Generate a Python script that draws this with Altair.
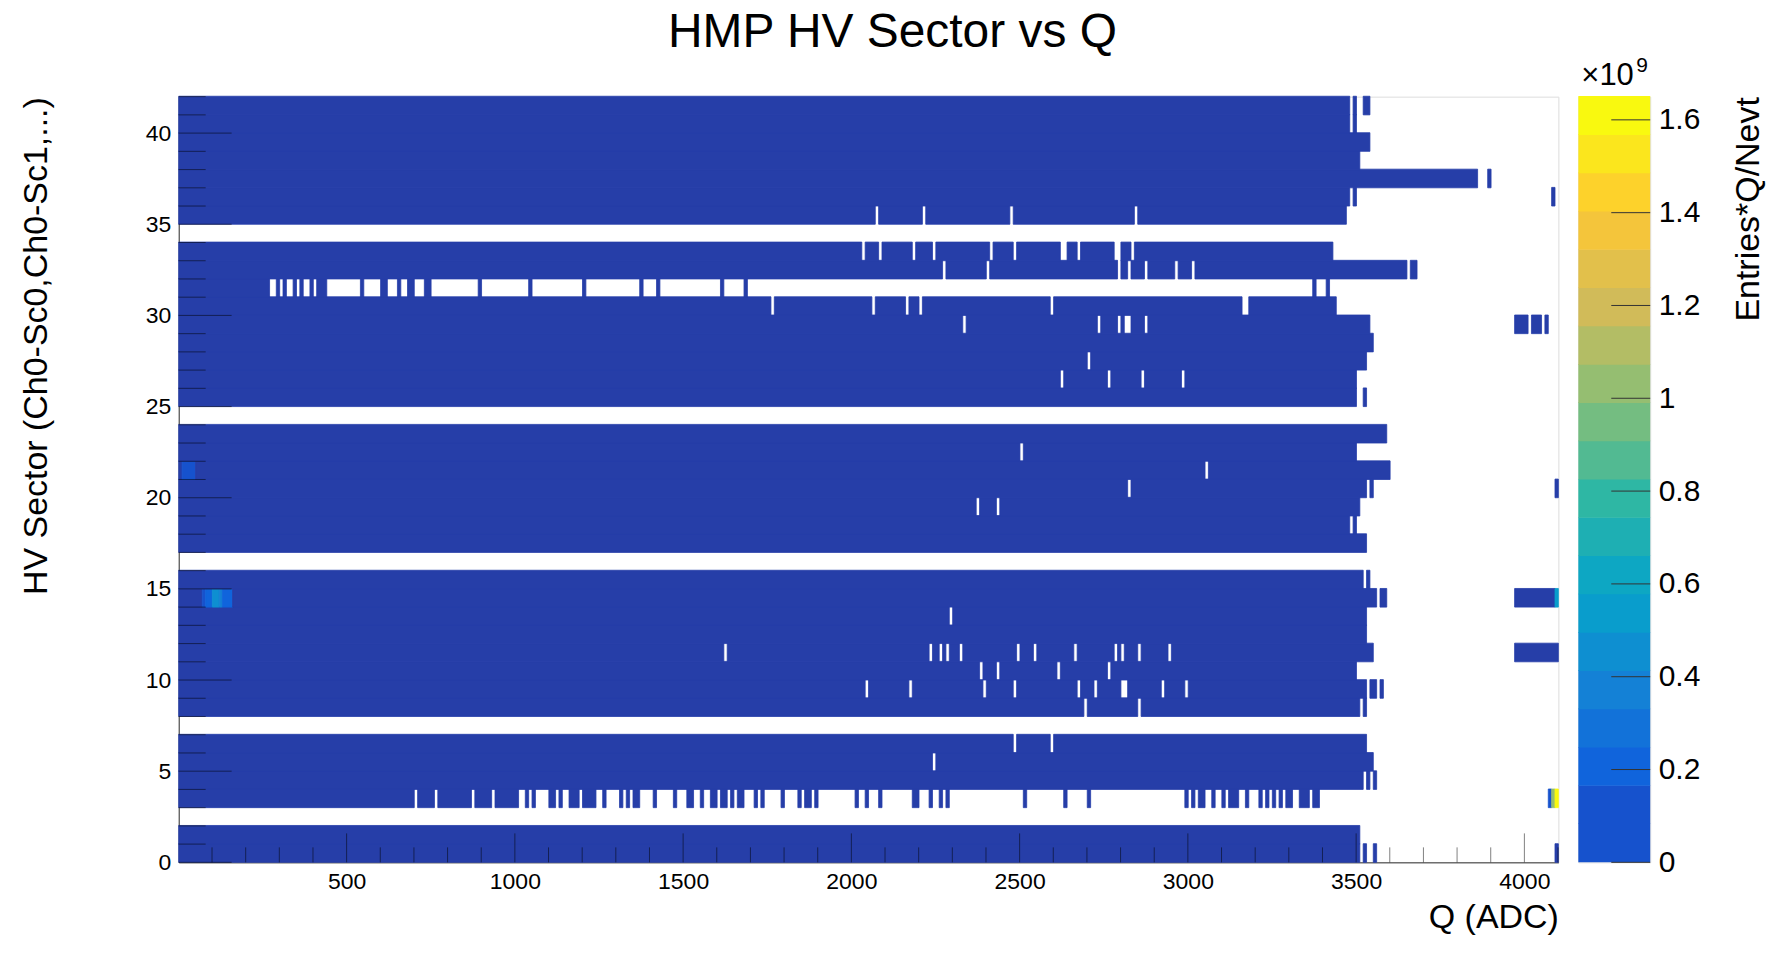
import altair as alt
import pandas as pd

# ---------------- data ----------------
N_ROWS = 42
N_BINS = 410
Q_LOW = 1          # first bin starts at Q = 1
BIN_W = 10         # ADC per bin

# number of contiguously filled bins from the left in each HV-sector row
FILL_END = [351, 351, 0, 70, 352, 355, 353, 0, 351, 353,
            350, 355, 353, 353, 356, 352, 0, 353, 348, 351,
            353, 360, 350, 359, 0, 350, 350, 353, 355, 354,
            344, 27, 365, 343, 0, 347, 348, 386, 351, 354,
            348, 348]

# empty bins inside the filled run
GAPS = {
    5: [224],
    6: [248, 259],
    8: [269, 285],
    9: [204, 217, 239, 248, 267, 272, 280, 281, 292, 299],
    10: [238, 243, 261, 276],
    11: [162, 223, 226, 228, 232, 249, 254, 266, 278, 280, 285, 294],
    13: [229],
    19: [237, 243],
    20: [282],
    21: [305],
    22: [250],
    26: [262, 276, 286, 298],
    27: [270],
    29: [233, 273, 279, 281, 282, 287],
    30: [176, 206, 216, 220, 259, 316, 317],
    32: [227, 240, 279, 282, 287, 296, 301],
    33: [203, 208, 218, 224, 241, 248, 262, 263, 267, 278, 279, 283],
    35: [207, 221, 247, 284],
}

# filled bin ranges (inclusive) outside the main run
EXTRA = {
    0: [(352, 352), (355, 355), (409, 409)],
    3: [(71, 75), (77, 86), (88, 92), (94, 100), (103, 103), (105, 105),
        (110, 111), (113, 113), (116, 118), (120, 123), (126, 126),
        (131, 131), (133, 133), (135, 136), (141, 141), (147, 147),
        (151, 152), (155, 155), (158, 159), (161, 162), (164, 164),
        (166, 167), (171, 171), (173, 173), (179, 179), (184, 184),
        (186, 187), (189, 189), (201, 201), (204, 204), (208, 208),
        (218, 219), (223, 223), (226, 226), (228, 228), (251, 251),
        (263, 263), (270, 270), (299, 299), (301, 301), (303, 304),
        (307, 307), (310, 310), (312, 314), (317, 317), (321, 321),
        (323, 323), (325, 325), (327, 327), (329, 330), (333, 335),
        (337, 338), (407, 409)],
    4: [(353, 353), (355, 355)],
    8: [(352, 352)],
    9: [(354, 355), (357, 357)],
    11: [(397, 409)],
    14: [(357, 358), (397, 409)],
    15: [(353, 353)],
    18: [(349, 349)],
    20: [(354, 354), (409, 409)],
    25: [(352, 352)],
    29: [(397, 400), (402, 404), (406, 406)],
    31: [(29, 29), (31, 31), (34, 34), (36, 36), (39, 39), (41, 43),
         (54, 54), (60, 61), (65, 65), (68, 69), (73, 74), (89, 89),
         (104, 104), (120, 120), (137, 137), (142, 142), (161, 161),
         (168, 168), (337, 337), (341, 341)],
    32: [(366, 367)],
    36: [(349, 349), (408, 408)],
    37: [(389, 389)],
    40: [(349, 349)],
    41: [(349, 349), (352, 353)],
}

BASE_VALUE = 0.04   # Entries*Q/Nevt in units of 1e9 (lowest colour band)

# cells with a brighter colour: (row, first bin, last bin, value x1e9)
SPECIAL = [
    (21, 1, 4, 0.12),
    (14, 7, 7, 0.14),
    (14, 8, 9, 0.20),
    (14, 10, 11, 0.46),
    (14, 12, 12, 0.34),
    (14, 13, 15, 0.18),
    (14, 409, 409, 0.54),
    (3, 407, 407, 0.14),
    (3, 408, 408, 1.05),
    (3, 409, 409, 1.64),
]

# colour bar (20 contour bands, kBird palette)
BAND_EDGES = [0, 0.0825, 0.165, 0.2475, 0.33, 0.4125, 0.495, 0.5775, 0.66,
              0.7425, 0.825, 0.9075, 0.99, 1.0725, 1.155, 1.2375, 1.32,
              1.4025, 1.485, 1.5675, 1.65]
BAND_COLORS = ["#263ea8", "#1652cd", "#1064dc", "#1272d9", "#1481d6",
               "#0e8fd1", "#099dcc", "#0da7c3", "#1eafb3", "#2eb7a4",
               "#52ba92", "#74bd81", "#95be71", "#b3bd65", "#d1bb59",
               "#e2c04b", "#f4c53b", "#fdd22b", "#fbe61d", "#f9f90f"]
# the palette box draws its lowest band with the second colour
BAR_COLORS = ["#1652cd"] + BAND_COLORS[1:]
CB_LABELS = [0, 0.2, 0.4, 0.6, 0.8, 1, 1.2, 1.4, 1.6]

X_LABELS = [500, 1000, 1500, 2000, 2500, 3000, 3500, 4000]
X_MINOR = [v for v in range(100, 4101, 100) if v % 500 != 0]
Y_LABELS = [0, 5, 10, 15, 20, 25, 30, 35, 40]
Y_MINOR = [v for v in range(1, 43) if v % 5 != 0]

TITLE = "HMP HV Sector vs Q"
X_TITLE = "Q (ADC)"
Y_TITLE = "HV Sector (Ch0-Sc0,Ch0-Sc1,...)"
Z_TITLE = "Entries*Q/Nevt"

# ---------------- build the cell table (run-length merged) ----------------
records = []
for r in range(N_ROWS):
    vals = [None] * N_BINS
    for i in range(FILL_END[r]):
        vals[i] = BASE_VALUE
    for g in GAPS.get(r, []):
        vals[g] = None
    for a, b in EXTRA.get(r, []):
        for i in range(a, b + 1):
            vals[i] = BASE_VALUE
    for (sr, a, b, v) in SPECIAL:
        if sr == r:
            for i in range(a, b + 1):
                vals[i] = v
    i = 0
    while i < N_BINS:
        if vals[i] is None:
            i += 1
            continue
        j = i
        while j + 1 < N_BINS and vals[j + 1] == vals[i]:
            j += 1
        records.append({"q0": Q_LOW + BIN_W * i, "q1": Q_LOW + BIN_W * (j + 1),
                        "s0": r, "s1": r + 1, "v": vals[i]})
        i = j + 1
cells_df = pd.DataFrame(records)

FONT = "Liberation Sans"
W, H = 1382, 767

xs = alt.Scale(domain=[Q_LOW, Q_LOW + BIN_W * N_BINS], nice=False, zero=False)
ys = alt.Scale(domain=[0, N_ROWS], nice=False, zero=True)
cscale = alt.Scale(type="threshold", domain=BAND_EDGES[1:-1], range=BAND_COLORS)

x_axis = alt.Axis(values=X_LABELS, format="d", title=X_TITLE, ticks=False, tickSize=0,
                  grid=False, domainColor="#333333", domainWidth=1,
                  labelFont=FONT, labelFontSize=23, labelColor="black", labelPadding=8,
                  labelFlush=False, labelOverlap=False,
                  titleFont=FONT, titleFontSize=34, titleFontWeight="normal", titleColor="black",
                  titleAlign="right", titleBaseline="alphabetic", titleX=W, titleY=65)
y_axis = alt.Axis(values=Y_LABELS, format="d", title=Y_TITLE, ticks=False, tickSize=0,
                  grid=False, domainColor="#333333", domainWidth=1,
                  labelFont=FONT, labelFontSize=23, labelColor="black", labelPadding=8,
                  labelOverlap=False,
                  titleFont=FONT, titleFontSize=34, titleFontWeight="normal", titleColor="black",
                  titleAngle=270, titleAlign="right", titleBaseline="middle",
                  titleX=-142, titleY=0)

# a thin stroke of the same colour closes the anti-aliasing seams between cells
cells = alt.Chart(cells_df).mark_rect(strokeWidth=0.8, y2Offset=-0.4).encode(
    x=alt.X("q0:Q", scale=xs, axis=x_axis),
    x2="q1:Q",
    y=alt.Y("s0:Q", scale=ys, axis=y_axis),
    y2="s1:Q",
    color=alt.Color("v:Q", scale=cscale, legend=None),
    stroke=alt.Stroke("v:Q", scale=cscale, legend=None),
)

tick_style = dict(color="black", opacity=0.5, strokeWidth=1)
ymin_t = alt.Chart(pd.DataFrame({"t": Y_MINOR})).mark_rule(**tick_style).encode(
    y=alt.Y("t:Q", scale=ys, axis=y_axis), x=alt.value(0), x2=alt.value(27))
ymaj_t = alt.Chart(pd.DataFrame({"t": Y_LABELS})).mark_rule(**tick_style).encode(
    y=alt.Y("t:Q", scale=ys, axis=y_axis), x=alt.value(0), x2=alt.value(53))
xmin_t = alt.Chart(pd.DataFrame({"t": X_MINOR})).mark_rule(**tick_style).encode(
    x=alt.X("t:Q", scale=xs, axis=x_axis), y=alt.value(H), y2=alt.value(H - 15))
xmaj_t = alt.Chart(pd.DataFrame({"t": X_LABELS})).mark_rule(**tick_style).encode(
    x=alt.X("t:Q", scale=xs, axis=x_axis), y=alt.value(H), y2=alt.value(H - 29))

main = alt.layer(cells, ymin_t, ymaj_t, xmin_t, xmaj_t).properties(width=W, height=H)

# ---------------- colour bar ----------------
CBW = 72
cbs = alt.Scale(domain=[BAND_EDGES[0], BAND_EDGES[-1]], nice=False, zero=True)
cb_df = pd.DataFrame({"lo": BAND_EDGES[:-1], "hi": BAND_EDGES[1:], "c": BAR_COLORS})
cb_axis = alt.Axis(orient="right", values=CB_LABELS, format="~g", title=Z_TITLE,
                   ticks=False, tickSize=0, domain=False, grid=False,
                   labelFont=FONT, labelFontSize=30, labelColor="black", labelPadding=8,
                   labelOverlap=False, labelFlush=False,
                   titleFont=FONT, titleFontSize=34, titleFontWeight="normal", titleColor="black",
                   titleAngle=270, titleAlign="right", titleBaseline="middle",
                   titleX=98, titleY=0)
bar = alt.Chart(cb_df).mark_rect(y2Offset=-0.6).encode(
    y=alt.Y("lo:Q", scale=cbs, axis=cb_axis), y2="hi:Q",
    x=alt.value(0), x2=alt.value(CBW),
    color=alt.Color("c:N", scale=None, legend=None))
cb_ticks = alt.Chart(pd.DataFrame({"t": CB_LABELS})).mark_rule(color="#333333", strokeWidth=1).encode(
    y=alt.Y("t:Q", scale=cbs, axis=cb_axis), x=alt.value(33), x2=alt.value(CBW))
times = alt.Chart(pd.DataFrame({"t": ["×10"]})).mark_text(
    font=FONT, fontSize=31, align="left", baseline="alphabetic", color="black").encode(
    text="t:N", x=alt.value(3), y=alt.value(-12))
expo = alt.Chart(pd.DataFrame({"t": ["9"]})).mark_text(
    font=FONT, fontSize=21, align="left", baseline="alphabetic", color="black").encode(
    text="t:N", x=alt.value(58), y=alt.value(-25))
cbar = alt.layer(bar, cb_ticks, times, expo).properties(width=CBW, height=H)

chart = alt.hconcat(main, cbar, spacing=18).properties(
    title=alt.TitleParams(TITLE, font=FONT, fontSize=48, fontWeight="normal", color="black",
                          anchor="middle", baseline="alphabetic", offset=-41),
    padding={"left": 11, "top": 0, "right": 5, "bottom": 5},
).configure_view(stroke="#888888", strokeWidth=1).configure(background="white")

chart.save("out.html", embed_options={"renderer": "svg", "actions": False})
